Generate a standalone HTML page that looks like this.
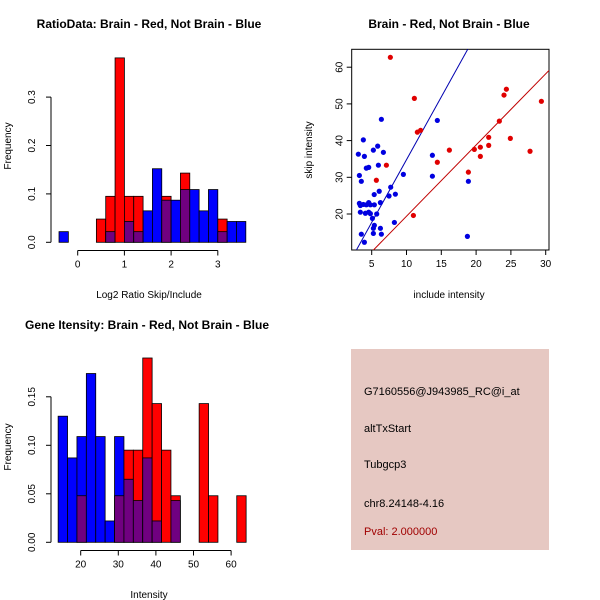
<!DOCTYPE html>
<html><head><meta charset="utf-8"><style>
body{margin:0;background:#fff;}
svg{display:block;font-family:"Liberation Sans",sans-serif;}
</style></head><body>
<svg id="s" width="600" height="600" viewBox="0 0 600 600">
<rect width="600" height="600" fill="#fff"/>
<text x="149" y="28" text-anchor="middle" font-size="12" font-weight="bold">RatioData: Brain - Red, Not Brain - Blue</text>
<text x="449" y="28" text-anchor="middle" font-size="12" font-weight="bold">Brain - Red, Not Brain - Blue</text>
<text x="147" y="329" text-anchor="middle" font-size="12" font-weight="bold">Gene Itensity: Brain - Red, Not Brain - Blue</text>
<text x="149" y="298" text-anchor="middle" font-size="10">Log2 Ratio Skip/Include</text>
<text x="149" y="598" text-anchor="middle" font-size="10">Intensity</text>
<text x="449" y="298" text-anchor="middle" font-size="10">include intensity</text>
<text transform="translate(11,146) rotate(-90)" text-anchor="middle" font-size="10">Frequency</text>
<text transform="translate(11,447) rotate(-90)" text-anchor="middle" font-size="10">Frequency</text>
<text transform="translate(312,150) rotate(-90)" text-anchor="middle" font-size="10">skip intensity</text>
<g id="h1"></g><g id="h2"></g><g id="sc"></g>
<g>
<rect x="351" y="349" width="198" height="201" fill="#e6c8c2"/>
<text x="364" y="395" font-size="11">G7160556@J943985_RC@i_at</text>
<text x="364" y="432" font-size="11">altTxStart</text>
<text x="364" y="468" font-size="11">Tubgcp3</text>
<text x="364" y="507" font-size="11">chr8.24148-4.16</text>
<text x="364" y="535" font-size="11" fill="#a00000">Pval: 2.000000</text>
</g>
</svg>
<script>
const ratioBreakStart = -0.4, ratioBinWidth = 0.2;
const ratioRed = [0,0,0,0,0.048,0.095,0.381,0.095,0.095,0,0,0.095,0,0.143,0,0,0,0.048,0,0];
const ratioBlue = [0.022,0,0,0,0,0.022,0,0.043,0.022,0.065,0.152,0.087,0.087,0.109,0.109,0.065,0.109,0.022,0.043,0.043];
const ratioXTicks = [0,1,2,3];
const ratioYTicks = ["0.0","0.1","0.2","0.3"];
const intBreakStart = 14, intBinWidth = 2.5;
const intRed = [0,0,0.048,0,0,0,0.048,0.095,0.095,0.190,0.143,0.095,0.048,0,0,0.143,0.048,0,0,0.048];
const intBlue = [0.130,0.087,0.109,0.174,0.109,0.022,0.109,0.065,0.043,0.087,0.022,0,0.043,0,0,0,0,0,0,0];
const intXTicks = [20,30,40,50,60];
const intYTicks = ["0.00","0.05","0.10","0.15"];
const redX = [7.68,11.13,11.56,12.03,7.11,5.67,10.99,14.43,16.16,18.89,19.75,20.61,20.61,21.81,21.81,23.34,24.92,24.01,24.35,27.75,29.38];
const redY = [62.7,51.5,42.3,42.8,33.3,29.2,19.6,34.1,37.4,31.4,37.6,38.2,35.7,40.9,38.7,45.3,40.6,52.4,54.0,37.1,50.7];
const blueX = [6.39,14.43,3.80,3.08,3.95,5.24,5.86,6.68,13.72,4.23,4.57,5.96,3.23,3.51,9.55,13.72,18.89,7.73,6.08,5.36,7.49,8.40,3.23,3.37,3.80,4.23,4.57,4.81,5.38,6.25,3.37,4.09,4.57,4.81,5.72,5.10,5.38,5.24,6.25,8.26,3.51,5.24,6.39,3.95,18.75];
const blueY = [45.8,45.5,40.2,36.3,35.7,37.4,38.5,36.8,36.0,32.5,32.7,33.3,30.5,28.9,30.8,30.3,28.9,27.3,26.2,25.3,24.9,25.4,22.9,22.3,22.6,22.5,23.1,22.5,22.5,23.1,20.5,20.2,20.5,20.1,20.0,18.8,16.9,16.1,16.1,17.7,14.5,14.7,14.5,12.3,13.9];
const blueLine = [0.6,3.42];
const redLine = [0.0,1.94];
const scXTicks = [5,10,15,20,25,30];
const scYTicks = [20,30,40,50,60];

const NS="http://www.w3.org/2000/svg";
function mk(parent,tag,attrs){const e=document.createElementNS(NS,tag);for(const k in attrs)e.setAttribute(k,attrs[k]);parent.appendChild(e);return e;}

function hist(g,o){
  const sx=v=>o.x0+(v-o.v0)*o.kx, sy=v=>o.y0-v*o.ky;
  for(let i=0;i<o.red.length;i++){
    const a=o.start+i*o.w, xl=sx(a), xr=sx(a+o.w);
    const r=o.red[i], b=o.blue[i], mx=Math.max(r,b), mn=Math.min(r,b);
    if(mx>0){
      const e=mk(g,'rect',{x:xl,y:sy(mx),width:xr-xl,height:sy(0)-sy(mx),fill:r>=b?'#ff0000':'#0000ff',stroke:'#000','stroke-width':0.8});
      
      
    }
    if(mn>0){
      const e=mk(g,'rect',{x:xl,y:sy(mn),width:xr-xl,height:sy(0)-sy(mn),fill:'#700080',stroke:'#000','stroke-width':0.8});
      
      
    }
  }
  const yt=o.yTicks;
  mk(g,'line',{x1:o.yAxisX,x2:o.yAxisX,y1:sy(0),y2:sy(parseFloat(yt[yt.length-1])),stroke:'#000'});
  yt.forEach(t=>{const y=sy(parseFloat(t));mk(g,'line',{x1:o.yAxisX-5,x2:o.yAxisX,y1:y,y2:y,stroke:'#000'});
    const tx=mk(g,'text',{transform:`translate(${o.yAxisX-16},${y}) rotate(-90)`,'text-anchor':'middle','font-size':10});tx.textContent=t;
    
    });
  const xt=o.xTicks, ay=o.xAxisY;
  mk(g,'line',{x1:sx(xt[0]),x2:sx(xt[xt.length-1]),y1:ay,y2:ay,stroke:'#000'});
  xt.forEach(t=>{const x=sx(t);mk(g,'line',{x1:x,x2:x,y1:ay,y2:ay+5,stroke:'#000'});
    const tx=mk(g,'text',{x:x,y:ay+17,'text-anchor':'middle','font-size':10});tx.textContent=t;
    
    });
}
hist(document.getElementById('h1'),{red:ratioRed,blue:ratioBlue,start:ratioBreakStart,w:ratioBinWidth,x0:77.7,v0:0,kx:46.7,y0:242.3,ky:484,yAxisX:51,xAxisY:250.5,xTicks:ratioXTicks,yTicks:ratioYTicks});
hist(document.getElementById('h2'),{red:intRed,blue:intBlue,start:intBreakStart,w:intBinWidth,x0:80.7,v0:20,kx:3.76,y0:542.3,ky:970,yAxisX:51,xAxisY:550.5,xTicks:intXTicks,yTicks:intYTicks});

(function(){
  const g=document.getElementById('sc');
  const sx=v=>371.7+(v-5)*6.96, sy=v=>214-(v-20)*3.67;
  const L=351.7,R=549,T=49.3,B=250;
  mk(g,'rect',{x:L,y:T,width:R-L,height:B-T,fill:'none',stroke:'#000'});
  const defs=mk(g,'clipPath',{id:'clp'});mk(defs,'rect',{x:L,y:T,width:R-L,height:B-T});
  const fitLine=(c,col,name)=>{const x1=2,x2=31;const e=mk(g,'line',{x1:sx(x1),y1:sy(c[0]+c[1]*x1),x2:sx(x2),y2:sy(c[0]+c[1]*x2),stroke:col,'stroke-width':1,'clip-path':'url(#clp)'});
    
    };
  fitLine(blueLine,'#0000b0','blue-fit-line');
  fitLine(redLine,'#c00000','red-fit-line');
  blueX.forEach((x,i)=>{const e=mk(g,'circle',{cx:sx(x),cy:sy(blueY[i]),r:2.6,fill:'#0000e0'});
    
    });
  redX.forEach((x,i)=>{const e=mk(g,'circle',{cx:sx(x),cy:sy(redY[i]),r:2.6,fill:'#e00000'});
    
    });
  scXTicks.forEach(t=>{const x=sx(t);mk(g,'line',{x1:x,x2:x,y1:B,y2:B+5,stroke:'#000'});
    const tx=mk(g,'text',{x:x,y:B+17,'text-anchor':'middle','font-size':10});tx.textContent=t;
    
    });
  scYTicks.forEach(t=>{const y=sy(t);mk(g,'line',{x1:L-5,x2:L,y1:y,y2:y,stroke:'#000'});
    const tx=mk(g,'text',{transform:`translate(${L-9},${y}) rotate(-90)`,'text-anchor':'middle','font-size':10});tx.textContent=t;
    
    });
})();
</script>
</body></html>
